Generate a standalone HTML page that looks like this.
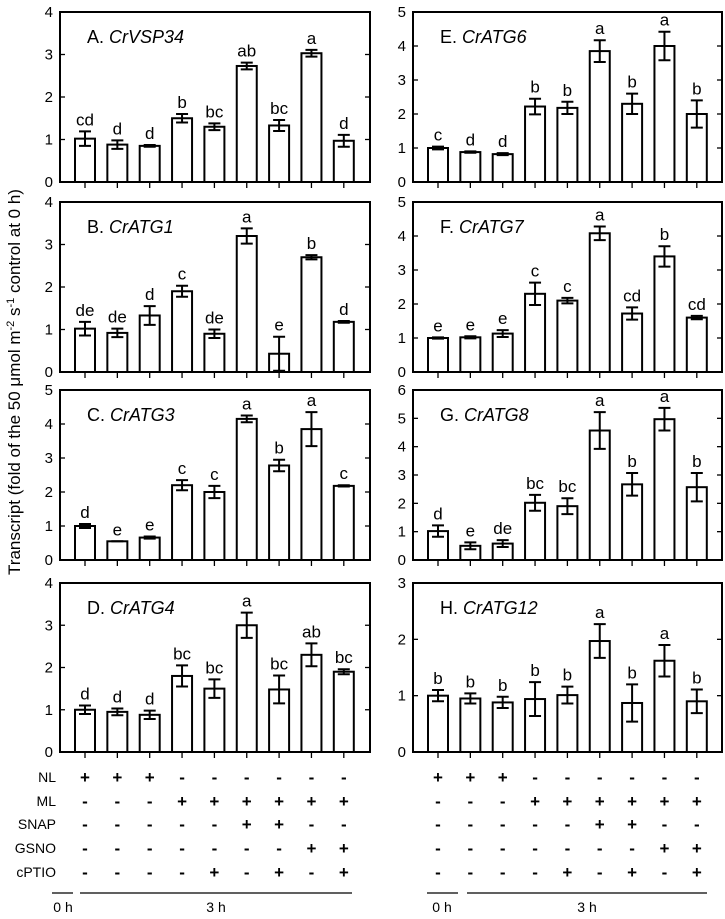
<!DOCTYPE html>
<html><head><meta charset="utf-8"><style>
body{margin:0;background:#fff}
svg{display:block;font-family:"Liberation Sans",Arial,sans-serif}
</style></head><body>
<svg id="fig" width="725" height="919" viewBox="0 0 725 919">
<text transform="translate(20,382) rotate(-90)" text-anchor="middle" font-size="17">Transcript (fold of the 50 μmol m<tspan dy="-6" font-size="11">-2</tspan><tspan dy="6"> s</tspan><tspan dy="-6" font-size="11">-1</tspan><tspan dy="6"> control at 0 h)</tspan></text>
</svg>
<script>
const panelIds=['A','B','C','D','E','F','G','H'];
const genes=['CrVSP34','CrATG1','CrATG3','CrATG4','CrATG6','CrATG7','CrATG8','CrATG12'];
const yMax=[4,4,5,4,5,5,6,3];
const valA=[1.02,0.88,0.85,1.5,1.3,2.73,1.33,3.03,0.97];
const errA=[0.17,0.1,0.02,0.1,0.08,0.08,0.13,0.08,0.14];
const letA=['cd','d','d','b','bc','ab','bc','a','d'];
const valB=[1.02,0.92,1.33,1.9,0.9,3.2,0.43,2.7,1.18];
const errB=[0.16,0.1,0.22,0.13,0.1,0.18,0.4,0.05,0.02];
const letB=['de','de','d','c','de','a','e','b','d'];
const valC=[1.0,0.55,0.66,2.2,2.0,4.15,2.78,3.85,2.18];
const errC=[0.06,0.0,0.03,0.15,0.18,0.1,0.17,0.5,0.02];
const letC=['d','e','e','c','c','a','b','a','c'];
const valD=[1.0,0.95,0.88,1.8,1.5,3.0,1.48,2.3,1.9];
const errD=[0.1,0.08,0.1,0.25,0.22,0.3,0.33,0.27,0.06];
const letD=['d','d','d','bc','bc','a','bc','ab','bc'];
const valE=[1.0,0.88,0.82,2.22,2.18,3.85,2.3,4.0,2.0];
const errE=[0.04,0.02,0.03,0.23,0.18,0.32,0.3,0.42,0.4];
const letE=['c','d','d','b','b','a','b','a','b'];
const valF=[1.0,1.02,1.13,2.3,2.1,4.08,1.72,3.4,1.6];
const errF=[0.02,0.03,0.1,0.33,0.08,0.2,0.18,0.3,0.05];
const letF=['e','e','e','c','c','a','cd','b','cd'];
const valG=[1.02,0.5,0.58,2.02,1.9,4.57,2.67,4.97,2.57];
const errG=[0.2,0.12,0.12,0.28,0.28,0.65,0.4,0.4,0.5];
const letG=['d','e','de','bc','bc','a','b','a','b'];
const valH=[1.0,0.95,0.88,0.94,1.01,1.97,0.87,1.62,0.9];
const errH=[0.1,0.09,0.1,0.3,0.15,0.3,0.33,0.28,0.21];
const letH=['b','b','b','b','b','a','b','a','b'];
const rowNames=['NL','ML','SNAP','GSNO','cPTIO'];
const rowNL=['+','+','+','-','-','-','-','-','-'];
const rowML=['-','-','-','+','+','+','+','+','+'];
const rowSNAP=['-','-','-','-','-','+','+','-','-'];
const rowGSNO=['-','-','-','-','-','-','-','+','+'];
const rowCPTIO=['-','-','-','-','+','-','+','-','+'];

const vals=[valA,valB,valC,valD,valE,valF,valG,valH];
const errs=[errA,errB,errC,errD,errE,errF,errG,errH];
const lets=[letA,letB,letC,letD,letE,letF,letG,letH];
const rows=[rowNL,rowML,rowSNAP,rowGSNO,rowCPTIO];

const NS='http://www.w3.org/2000/svg';
const svg=document.getElementById('fig');
function mk(tag,attrs,parent){const e=document.createElementNS(NS,tag);for(const k in attrs)e.setAttribute(k,attrs[k]);(parent||svg).appendChild(e);return e;}
const tops=[12,202,390,583], bots=[182,372,560,752];
const colL=[60,413], colR=[370,722];
const step=32.35, barW=20;
function xPos(c,i){return colL[c]+25+i*step;}

for(let p=0;p<8;p++){
  const c=p<4?0:1, r=p%4;
  const L=colL[c],R=colR[c],T=tops[r],B=bots[r];
  const y=v=>B-(v/yMax[p])*(B-T);
  const g=mk('g',{});
  
  
  for(let t=0;t<=yMax[p];t++){
    const ty=y(t);
    const tl=mk('text',{x:L-7,y:ty+5,'text-anchor':'end','font-size':15},g);
    tl.textContent=t;
    
    
    if(t>0&&t<yMax[p]){
      mk('line',{x1:L,x2:L+5,y1:ty,y2:ty,stroke:'#000','stroke-width':1.3},g);
      mk('line',{x1:R,x2:R-5,y1:ty,y2:ty,stroke:'#000','stroke-width':1.3},g);
    }
  }
  for(let i=0;i<9;i++){
    const cx=xPos(c,i), v=vals[p][i], e=errs[p][i];
    mk('line',{x1:cx,x2:cx,y1:B,y2:B+6,stroke:'#000','stroke-width':1.3},g);
    const bar=mk('rect',{x:cx-barW/2,y:y(v),width:barW,height:B-y(v),fill:'#fff',stroke:'#000','stroke-width':2},g);
    
    
    const eb=mk('path',{d:`M${cx},${y(v+e)}V${y(v-e)}M${cx-6},${y(v+e)}H${cx+6}M${cx-6},${y(v-e)}H${cx+6}`,stroke:'#000','stroke-width':2,fill:'none'},g);
    
    
    const lt=mk('text',{x:cx,y:y(v+e)-6,'text-anchor':'middle','font-size':17},g);
    lt.textContent=lets[p][i];
    
    
  }
  const fr=mk('rect',{x:L,y:T,width:R-L,height:B-T,fill:'none',stroke:'#000','stroke-width':2},g);
  
  
  const tt=mk('text',{x:L+27,y:T+31,'font-size':18},g);
  
  
  tt.appendChild(document.createTextNode(panelIds[p]+'. '));
  const it=mk('tspan',{'font-style':'italic'},tt);it.textContent=genes[p];
}

const rowY=[782,806,829,853,877];
for(let c=0;c<2;c++){
  const g=mk('g',{});
  
  
  for(let r=0;r<5;r++){
    if(c===0){
      const rl=mk('text',{x:56,y:rowY[r],'text-anchor':'end','font-size':14},g);
      rl.textContent=rowNames[r];
      
      
    }
    for(let i=0;i<9;i++){
      const s=mk('text',{x:xPos(c,i),y:rowY[r]+1,'text-anchor':'middle','font-size':17,'font-weight':'bold'},g);
      s.textContent=rows[r][i];
    }
  }
  mk('line',{x1:c?427:52,x2:c?458:73,y1:893,y2:893,stroke:'#000','stroke-width':1.2},g);
  mk('line',{x1:c?467:80,x2:c?707:352,y1:893,y2:893,stroke:'#000','stroke-width':1.2},g);
  const h0=mk('text',{x:c?442:63,y:912,'text-anchor':'middle','font-size':14},g);h0.textContent='0 h';
  
  
  const h3=mk('text',{x:c?587:216,y:912,'text-anchor':'middle','font-size':14},g);h3.textContent='3 h';
  
  
}
</script>
</body></html>
